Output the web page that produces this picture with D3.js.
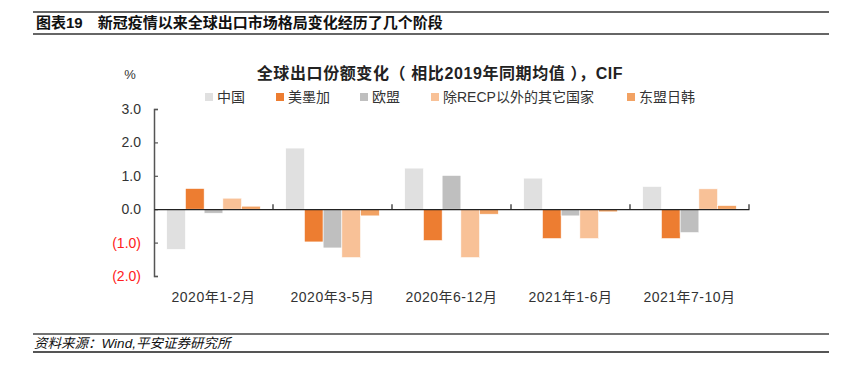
<!DOCTYPE html>
<html>
<head>
<meta charset="utf-8">
<script src="https://cdn.jsdelivr.net/npm/d3@7"></script>
<style>
  body { margin: 0; background: #fff; }
  text { font-family: "Liberation Sans", "Noto Sans CJK SC", sans-serif; }
</style>
</head>
<body>
<div id="chart"></div>
<script>
  // data
  var periods = ["2020年1-2月", "2020年3-5月", "2020年6-12月", "2021年1-6月", "2021年7-10月"]
  var seriesNames = ["中国", "美墨加", "欧盟", "除RECP以外的其它国家", "东盟日韩"]
  var china = [-1.2, 1.83, 1.23, 0.93, 0.68]
  var usmca = [0.62, -0.98, -0.94, -0.88, -0.88]
  var eu = [-0.12, -1.16, 1.01, -0.2, -0.7]
  var otherNonRcep = [0.33, -1.45, -1.45, -0.88, 0.61]
  var aseanJpKr = [0.09, -0.2, -0.15, -0.08, 0.11]
  var yTicks = [-2, -1, 0, 1, 2, 3]

  var colors = ["#e0e0e0", "#ed7d31", "#bfbfbf", "#f8c197", "#f2a263"]
  var seriesValues = [china, usmca, eu, otherNonRcep, aseanJpKr]

  var W = 854, H = 366

  var svg = d3.select("#chart").append("svg")
    .attr("width", W)
    .attr("height", H)

  // header lines and title
  svg.append("line").attr("x1", 33).attr("x2", 829).attr("y1", 12).attr("y2", 12)
    .attr("stroke", "#333").attr("stroke-width", 1.5)
  svg.append("line").attr("x1", 33).attr("x2", 829).attr("y1", 34).attr("y2", 34)
    .attr("stroke", "#333").attr("stroke-width", 1.5)
  svg.append("text")
    .attr("x", 36).attr("y", 28)
    .attr("font-size", "15px").attr("font-weight", "bold").attr("fill", "#111")
    .text("图表19\u2003新冠疫情以来全球出口市场格局变化经历了几个阶段")

  // footer
  svg.append("line").attr("x1", 33).attr("x2", 829).attr("y1", 334).attr("y2", 334)
    .attr("stroke", "#444").attr("stroke-width", 1.5)
  svg.append("line").attr("x1", 33).attr("x2", 829).attr("y1", 352).attr("y2", 352)
    .attr("stroke", "#555").attr("stroke-width", 2)
  svg.append("text")
    .attr("x", 34).attr("y", 348)
    .attr("font-size", "13.5px").attr("font-style", "italic").attr("fill", "#111")
    .text("资料来源：Wind,平安证券研究所")

  // chart title
  svg.append("text")
    .attr("x", 440).attr("y", 79)
    .attr("text-anchor", "middle")
    .attr("font-size", "16px").attr("font-weight", "bold").attr("fill", "#222")
    .attr("letter-spacing", "0.6px")
    .text("全球出口份额变化（ 相比2019年同期均值 ），CIF")

  svg.append("text")
    .attr("x", 130).attr("y", 79)
    .attr("text-anchor", "middle")
    .attr("font-size", "13px").attr("fill", "#333")
    .text("%")

  // legend
  var legendX = [205, 276, 360, 431, 627]
  var legend = svg.selectAll(".legend")
    .data(seriesNames)
    .enter().append("g")
    .attr("class", "legend")
    .attr("transform", function (d, i) { return "translate(" + legendX[i] + ",93)" })
  legend.append("rect")
    .attr("width", 8).attr("height", 8)
    .attr("fill", function (d, i) { return colors[i] })
  legend.append("text")
    .attr("x", 12).attr("y", 4)
    .attr("dy", ".35em")
    .attr("font-size", "14px").attr("fill", "#333")
    .text(function (d) { return d })

  // scales
  var x0 = d3.scaleBand()
    .domain(periods)
    .range([154, 749])

  var x1 = d3.scaleBand()
    .domain(d3.range(seriesNames.length))
    .range([0, x0.bandwidth()])
    .paddingOuter(0.68)

  var y = d3.scaleLinear()
    .domain([-2, 3])
    .range([276, 109])

  // bars
  var cells = []
  periods.forEach(function (p, pi) {
    seriesValues.forEach(function (vals, si) {
      cells.push({ period: p, series: si, value: vals[pi] })
    })
  })

  svg.selectAll("rect.bar")
    .data(cells)
    .enter().append("rect")
    .attr("class", "bar")
    .attr("x", function (d) { return x0(d.period) + x1(d.series) })
    .attr("width", x1.bandwidth())
    .attr("y", function (d) { return y(Math.max(0, d.value)) })
    .attr("height", function (d) { return Math.abs(y(d.value) - y(0)) })
    .attr("fill", function (d) { return colors[d.series] })
    .attr("stroke", "#fff")
    .attr("stroke-width", 0.6)

  // y axis
  var yAxis = d3.axisLeft(y)
    .tickValues(yTicks)
    .tickSize(-4)
    .tickPadding(13)
    .tickFormat(function (d) { return d < 0 ? "(" + d3.format(".1f")(-d) + ")" : d3.format(".1f")(d) })

  var gy = svg.append("g")
    .attr("transform", "translate(154,0)")
    .call(yAxis)
  gy.select(".domain").attr("stroke", "#555").attr("stroke-width", 1.5)
  gy.selectAll(".tick line").attr("stroke", "#555").attr("stroke-width", 1.2)
  gy.selectAll(".tick text")
    .attr("font-size", "14px")
    .attr("font-family", "Liberation Sans, sans-serif")
    .attr("fill", function (d) { return d < 0 ? "#ff2020" : "#333" })

  // x axis at zero
  var xAxis = d3.axisBottom(x0).tickSize(0).tickSizeOuter(0)
  var gx = svg.append("g")
    .attr("transform", "translate(0," + y(0) + ")")
    .call(xAxis)
  gx.select(".domain").attr("stroke", "#222").attr("stroke-width", 1.3)
  gx.selectAll(".tick text").remove()

  // category boundary ticks pointing up
  var bounds = periods.map(function (p) { return x0(p) + x0.bandwidth() })
  svg.selectAll("line.bt")
    .data(bounds)
    .enter().append("line")
    .attr("class", "bt")
    .attr("x1", function (d) { return d }).attr("x2", function (d) { return d })
    .attr("y1", y(0)).attr("y2", y(0) - 5)
    .attr("stroke", "#222").attr("stroke-width", 1.2)

  // category labels at the bottom
  svg.selectAll("text.cat")
    .data(periods)
    .enter().append("text")
    .attr("class", "cat")
    .attr("x", function (d) { return x0(d) + x0.bandwidth() / 2 })
    .attr("y", 297)
    .attr("dy", ".35em")
    .attr("text-anchor", "middle")
    .attr("font-size", "14px").attr("letter-spacing", "0.5px").attr("fill", "#333")
    .text(function (d) { return d })
</script>
</body>
</html>
